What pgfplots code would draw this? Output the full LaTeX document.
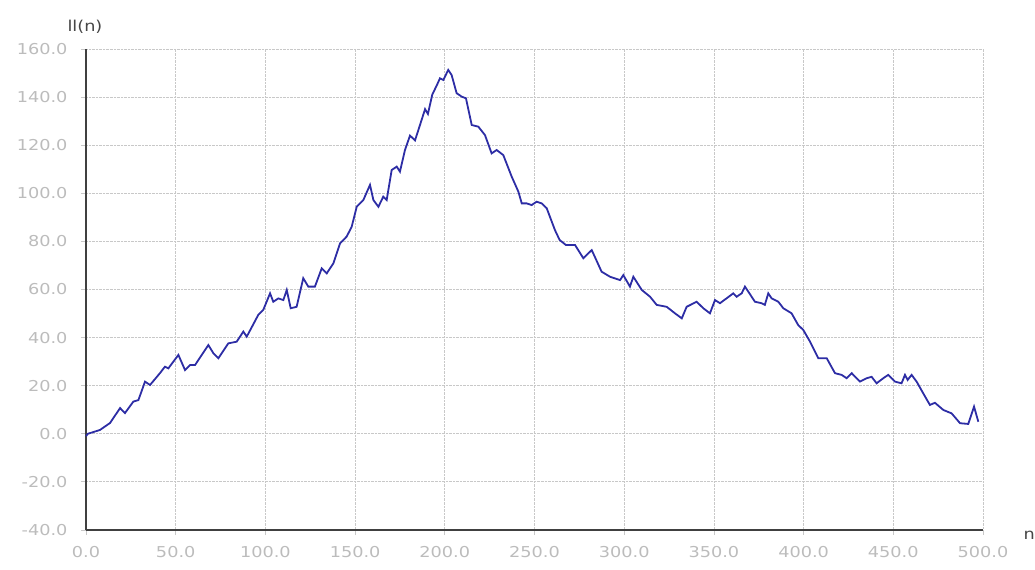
\documentclass[border=0pt]{standalone}
\usepackage{pgfplots}
\pgfplotsset{compat=1.18}
\usepackage{fontspec}
\setmainfont{DejaVu Sans}[FakeStretch=1.18]
\definecolor{walk}{RGB}{45,45,165}
\definecolor{ticktxt}{RGB}{188,188,188}
\definecolor{labtxt}{RGB}{70,70,70}
\definecolor{gridc}{RGB}{200,200,200}

\begin{document}
\begin{tikzpicture}[x=1bp,y=1bp]
\useasboundingbox (-86bp,-40bp) rectangle (949bp,530bp);
\begin{axis}[
    at={(0,0)}, anchor=south west,
    scale only axis,
    width=897bp, height=481bp,
    xmin=0, xmax=500, ymin=-40, ymax=160,
    xtick={0,50,...,500},
    ytick={-40,-20,...,160},
    axis x line=bottom, axis y line=left,
    axis line style={-, draw=black!75, line width=1.2bp},
    x axis line style={-}, y axis line style={-},
    grid=major,
    major grid style={gridc, densely dotted, line width=0.8bp},
    tick style={draw=gridc, line width=0.8bp},
    major tick length=5bp,
    tick align=outside,
    /pgf/number format/.cd, fixed, zerofill, precision=1, assume math mode=true,
    /pgfplots/.cd,
    ticklabel style={font=\fontsize{15bp}{17bp}\selectfont, text=ticktxt},
    yticklabel style={xshift=-10bp},
    xticklabel style={yshift=-8bp},
    clip=false,
]
\addplot[walk, line width=1.8bp] coordinates {
(0,-1) (1,0) (7.8,1.6) (13.4,4.5) (19,10.7) (21.7,8.6) (26.4,13.4) (29.2,14)
(32.9,21.7) (35.7,20.3) (41.2,25.2) (44,27.9) (45.9,27.2) (51.5,32.8) (55.2,26.5)
(58,28.6) (60.8,28.6) (68.2,36.9) (71,33.5) (73.8,31.4) (79.3,37.6) (84,38.3)
(87.7,42.5) (89.6,40.4) (96,49.4) (98.8,51.5) (102.6,58.4) (104.4,54.9) (107.2,56.3)
(110,55.6) (111.9,59.8) (114.1,52.2) (117.4,52.8) (121.1,64.7) (123.9,61.2)
(127.6,61.2) (131.4,68.8) (134.2,66.7) (137.9,70.9) (141.6,79.2) (145.3,82)
(148.1,86.1) (150.9,94.4) (154.6,97.2) (158.3,103.5) (160.2,97.2) (163,94.4)
(165.7,98.6) (167.6,97.2) (170.4,109.7) (173.2,111.1) (175,109) (177.8,118)
(180.6,124) (183.4,122) (186,128) (189,135) (190.6,133) (193,141) (195.6,145)
(197.3,147.8) (199.2,147.1) (201.9,151.3) (203.8,149.2) (206.6,141.6) (209.4,140.2)
(211.8,139.5) (215,128.4) (218.7,127.7) (222.4,124.2) (226.1,116.6) (228.9,118)
(232.6,115.9) (237.3,106.9) (241,100.7) (242.9,95.8) (245.7,95.8) (248.4,95.1)
(251.2,96.5) (254,95.8) (256.8,93.8) (261.4,84.7) (264,80.6) (267.5,78.5)
(272.6,78.5) (277.2,73) (281.9,76.4) (287.4,67.4) (292.1,65.3) (297.7,63.9)
(299.5,66) (303.2,61.2) (305.1,65.3) (309.8,59.8) (314.4,57) (318.1,53.6)
(323.7,52.8) (328.3,50.1) (332.1,48) (334.8,52.8) (340.4,54.9) (344.1,52.2)
(347.8,50.1) (350.6,55.6) (353.4,54.3) (360.8,58.4) (362.7,57) (365.5,58.4)
(367.3,61.2) (372.9,54.9) (376.6,54.3) (378.4,53.6) (380.3,58.4) (382.2,56.3)
(385.9,54.9) (388.7,52.2) (393.3,50.1) (397,45.2) (399.8,43.2) (403.6,38.3)
(408.2,31.4) (412.9,31.4) (417.5,25.2) (421.2,24.5) (424,23.1) (426.8,25.2)
(431.4,21.7) (435.1,23.1) (437.9,23.7) (440.7,21) (444.4,23.1) (447.2,24.5)
(450.9,21.7) (454.6,21) (456.5,24.5) (458,22.4) (460.2,24.5) (463,21.7)
(466.7,16.8) (470.4,12) (473.2,12.9) (477.9,9.9) (482.5,8.5) (487.2,4.4)
(491.8,4.1) (495,11.3) (497.4,5)
};
\end{axis}
\node[anchor=base west, text=labtxt, font=\fontsize{15bp}{17bp}\selectfont] at (-22bp,498bp) {ll(n)};
\node[anchor=base west, text=labtxt, font=\fontsize{15bp}{17bp}\selectfont] at (934bp,-9bp) {n};
\end{tikzpicture}
\end{document}
